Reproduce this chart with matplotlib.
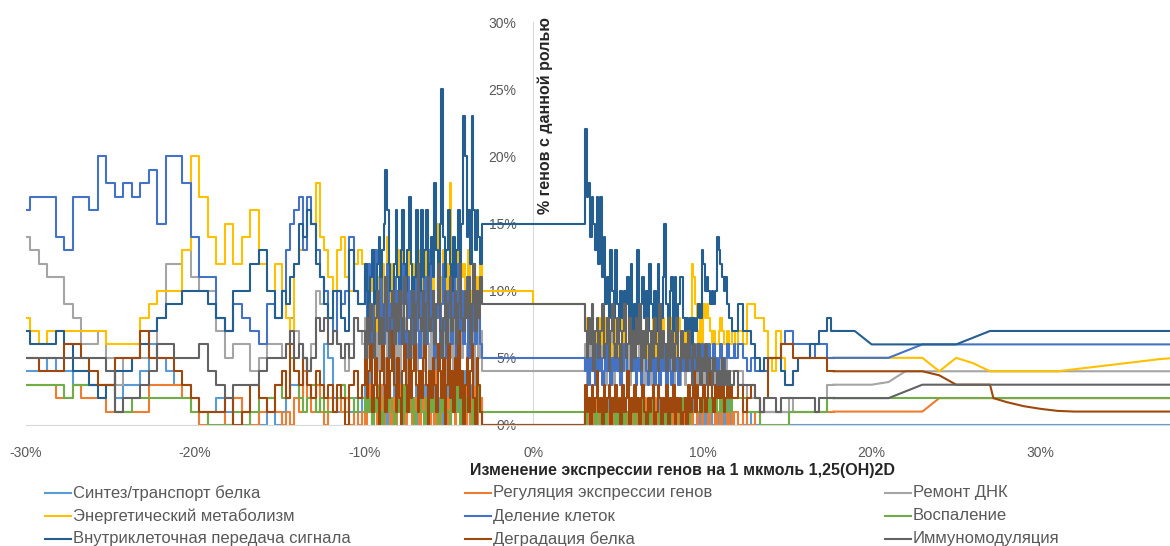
import numpy as np
import matplotlib
matplotlib.use("Agg")
import matplotlib.pyplot as plt
from matplotlib.lines import Line2D
from matplotlib.ticker import FuncFormatter, MultipleLocator

plt.rcParams['font.family'] = ['Liberation Sans Narrow', 'Liberation Sans', 'DejaVu Sans']

# x sample positions (% change of expression)
X_LEFT = np.concatenate([np.linspace(-30, -15.5, 30),
                         np.linspace(-15, -10.25, 20),
                         np.linspace(-10, -3, 71)])
X_TAIL = [18, 19, 20, 21, 22, 23, 24, 25, 26, 27, 27.2, 28, 29, 30, 31, 32, 33, 34, 35, 36, 37, 38]
X_RIGHT = np.concatenate([np.linspace(3, 11.9, 90),
                          np.linspace(12, 17.75, 24),
                          X_TAIL])
X_TICKS = [-30, -20, -10, 0, 10, 20, 30]

LABELS = ["Синтез/транспорт белка", "Регуляция экспрессии генов", "Ремонт ДНК",
          "Энергетический метаболизм", "Деление клеток", "Воспаление",
          "Внутриклеточная передача сигнала", "Деградация белка", "Иммуномодуляция"]
COLORS = ["#5B9BD5", "#ED7D31", "#A5A5A5", "#FFC000", "#4472C4", "#70AD47",
          "#255E91", "#9E480E", "#636363"]

# % of genes with the role, left side (x < 0)
SYNTH_L = """4 4 4 5 4 4 3 3 3 3 3 2 3 3 4 6 5 4 3 3 2 1 1 2 1 2 1 1 0 1
0 1 2 3 3 2 5 3 2 1 2 6 5 2 1 3 2 1 2 1
2 3 1 4 2 0 3 5 1 2 3 1 4 2 0 3 1 2 5 1 2 4 1 3 0 2 5 1 3 2 1 3 0 2 4 1 3 2 0 4
2 1 3 5 1 2 0 3 1 4 2 0 3 1 4 2 1 3 0 2 4 1 2 0 3 1 2 4 1 2 0"""
REGUL_L = """3 3 3 3 2 2 3 2 2 2 1 1 1 1 1 3 3 3 3 2 1 0 1 1 0 2 1 0 1 2
1 0 1 0 2 1 4 2 1 3 1 0 2 1 2 1 2 0 1 0
1 0 2 1 3 0 1 2 0 1 3 1 0 2 1 4 0 1 2 0 1 3 0 2 1 0 2 4 1 0 2 1 3 0 1 2 0 1 3 0
1 2 0 4 1 0 2 1 3 0 2 0 1 3 0 2 1 0 2 1 0 3 1 0 2 1 4 0 1 2 0"""
REPAIR_L = """14 13 12 11 11 9 8 6 6 7 5 3 5 5 5 5 8 12 12 13 11 10 10 7 5 6 6 4 5 6
6 5 6 8 7 6 5 4 6 10 9 10 8 7 6 5 4 6 8 7
6 8 5 7 4 6 9 5 7 4 6 8 5 3 7 9 6 4 8 5 7 4 6 9 5 8 3 6 7 5 8 4 6 9 5 7 4 8 6 3
7 5 9 6 4 8 5 7 3 6 9 5 7 4 8 6 3 7 5 9 6 4 8 5 7 3 6 9 5 7 4"""
ENERGY_L = """8 7 6 7 7 7 7 7 7 7 6 6 6 6 8 9 10 10 10 13 20 17 14 12 15 12 14 16 12 10
12 10 8 7 12 13 13 16 15 18 14 13 11 10 13 14 11 10 12 13
12 9 11 8 10 13 9 7 11 10 8 12 9 11 14 10 8 12 9 11 13 10 12 16 9 11 13 8 10 12
9 11 13 10 8 12 9 16 11 10 12 9 13 15 10 8 11 13 9 12 10 18 11 9 12 10 13 8 11 12
9 11 13 10 8 12 9 11 10 12 10"""
DIVIS_L = """16 17 17 17 14 13 17 17 16 20 18 17 18 17 18 19 15 20 20 18 14 11 11 8 7 9 8 7 6 9
8 10 13 15 16 17 13 17 15 13 11 10 8 7 10 9 10 14 10 9
9 11 7 12 8 6 10 13 9 7 11 8 6 10 12 7 9 5 11 8 10 6 9 12 7 5 11 8 10 6
9 12 7 5 10 8 11 6 9 13 7 10 5 8 11 6 9 12 7 5 10 8 6 11 9 5 12 7 10 6
8 11 5 9 7 12 6 10 8 6 5"""
INFL_L = """3 3 3 3 3 2 3 3 3 3 3 1 1 2 2 2 2 2 2 2 1 1 0 0 0 1 0 1 2 2
3 2 2 5 4 2 1 2 3 1 2 1 1 1 2 3 1 2 1 2
2 1 3 1 2 0 1 2 1 3 1 0 2 1 1 3 2 1 0 1 2 1 1 0 3 1 2 1 1 2 0 1 2 3 1 1 0 2 1 1
3 1 2 1 0 1 2 1 3 1 1 0 2 1 1 3 1 0 2 1 1 2 1 1 0 2 1 3 1 1 1"""
SIGNAL_L = """7 6 6 6 7 6 4 4 3 2 3 4 4 5 6 7 8 9 9 10 10 10 9 8 7 10 10 12 13 10
8 10 9 11 12 15 14 16 15 12 11 9 8 10 10 8 7 13 10 9
9 12 10 8 11 13 9 10 12 14 11 13 15 19 16 12 10 9 12 16 11 9 13 16 12 10 13 17 12 9
11 16 12 10 16 11 13 16 10 12 14 11 18 13 10 15 25 14 11 13 16 12 10 14 11 13 16 12 15 23
20 14 16 12 23 16 13 16 14 12 15"""
DEGR_L = """5 5 4 4 4 6 6 5 4 3 3 5 5 5 7 5 5 5 4 3 2 1 1 1 2 0 1 3 2 1
3 4 2 6 4 3 5 3 2 4 3 2 3 1 3 2 0 3 4 2
3 5 2 4 6 1 3 5 2 0 4 6 3 1 5 2 4 7 3 1 5 2 0 4 6 3 1 5 2 4 6 3 1 4 2 5 7 3 0 4
2 5 3 1 6 4 2 5 0 3 6 2 4 1 5 3 7 2 4 0 3 5 1 4 6 2 0 5 3 1 0"""
IMMUN_L = """5 5 5 5 5 5 5 5 5 5 4 1 2 2 3 4 6 6 5 5 5 6 4 3 2 3 3 3 4 5
5 5 6 7 5 6 5 4 5 8 7 8 6 7 6 5 6 5 8 7
7 5 8 6 9 7 5 8 10 6 8 6 9 11 7 5 8 10 6 9 7 10 8 6 11 9 7 5 8 10 6 9 12 8 7 10 6 9 11 7
8 10 6 9 12 7 5 8 10 6 9 11 7 8 10 6 9 12 8 7 10 8 11 6 9 12 7 10 8 11 9"""

# right side (x > 0)
SYNTH_R = """0 1 0 0 2 0 1 0 0 1 0 0 1 0 2 0 0 1 0 0 1 0 0 2 0 1 0 0 1 0 0 2 0 0 1 0 0 1 0 2
0 0 1 0 0 2 0 1 0 0 1 0 0 1 0 0 2 0 0 1 0 1 0 0 2 0 0 1 0 1 0 0 1 0 1 2 0 0 1 0
1 0 0 1 0 1 2 0 1 1
1 0 0 1 0 0 1 1 1 1 1 1 1 0 0 0 0 0 0 0 0 0 0 0
0 0 0 0 0 0 0 0 0 0 0 0 0 0 0 0 0 0 0 0 0 0"""
REGUL_R = """0 1 0 2 1 0 1 0 2 0 1 0 1 2 0 1 0 1 0 2 0 1 0 1 2 0 1 0 1 0 2 0 1 0 1 0 2 1 0 1
0 1 2 0 1 0 1 0 2 1 0 1 0 1 2 0 1 0 1 0 1 2 0 1 0 1 2 0 1 1 0 1 2 1 0 1 1 2 0 1
1 0 1 2 1 0 1 1 0 1
1 0 1 0 0 1 1 1 1 1 1 1 1 1 1 1 1 1 1 1 1 1 1 1
1 1 1 1 1 1 2 2 2 2 2 2 2 2 2 2 2 2 2 2 2 2"""
REPAIR_R = """4 6 3 5 7 4 6 3 5 6 4 7 5 3 6 4 5 7 3 5 6 4 3 5 7 4 6 3 5 4 6 3 5 7 4 5 3 6 4 5
3 6 4 5 7 3 5 4 6 3 5 4 6 3 5 7 4 3 5 4 3 5 4 6 3 4 5 3 4 6 4 3 5 4 3 5 4 6 3 4
5 3 4 3 5 4 3 4 4 4
4 4 3 2 2 2 1 1 1 1 1 1 1 2 1 1 1 1 1 1 1 1 3 3
3 3 3 3.2 4 4 4 4 4 4 4 4 4 4 4 4 4 4 4 4 4 4"""
ENERGY_R = """9 7 8 6 7 8 6 7 5 8 6 7 5 8 6 7 5 6 8 6 7 5 6 8 6 10 9 7 6 8 5 7 6 8 5 7 6 5 8 7
6 8 5 7 6 5 7 8 6 5 7 6 8 7 5 6 8 7 5 6 7 5 6 8 12 11 9 7 6 8 6 9 8 9 8 7 6 7 6 6
7 8 7 6 6 7 6 6 7 7
6 7 6 9 9 8 8 7 5 4 7 5 3 3 4 5 5 5 5 5 5 5 5 5
5 5 5 5 5 5 4 5 4.6 4 4 4 4 4 4 4.15 4.3 4.45 4.6 4.75 4.9 5"""
DIVIS_R = """5 4 6 3 5 4 5 3 6 4 5 3 4 6 4 5 3 5 4 6 4 5 3 4 6 5 3 4 5 4 6 3 5 4 3 5 6 4 3 5
4 6 3 5 4 3 5 4 6 3 5 4 3 6 4 5 3 4 5 4 6 5 4 5 6 5 4 6 5 5 6 5 4 5 6 5 5 6 5 4
5 6 5 4 5 6 5 5 5 6
5 6 5 4 5 4 4 4 5 5 5 6 7 7 6 6 6 6 5 6 6 6 5 5
5 5 5 5 5.5 6 6 6 6 6 6 6 6 6 6 6 6 6 6 6 6 6"""
INFL_R = """1 0 2 1 0 1 2 0 1 1 0 2 1 0 1 1 0 2 1 0 1 0 1 2 0 1 1 0 1 2 0 1 1 0 2 1 0 1 1 0
2 1 0 1 1 0 1 2 0 1 1 0 2 1 0 1 1 0 1 2 1 1 0 2 1 1 2 1 1 2 1 2 2 1 2 1 2 2 1 2
2 1 2 2 1 2 2 1 2 2
2 2 2 1 1 1 0 0 0 0 0 0 0 1 1 1 1 1 1 1 1 1 2 2
2 2 2 2 2 2 2 2 2 2 2 2 2 2 2 2 2 2 2 2 2 2"""
SIGNAL_R = """15 22 17 18 14 17 15 13 17 12 17 11 14 9 11 8 13 10 8 13 9 7 10 8 10 9 11 8 12 7
9 8 13 7 9 11 8 10 7 12 9 8 10 7 12 9 8 11 15 9 8 10 11 7 11 8 9 11 11 8
7 8 7 8 6 8 7 8 9 8 13 12 10 11 10 9 10 9 10 14 13 12 11 10 11 9 8 8 7 7
7 9 7 7 6 5 4 5 5 5 5 4 3 3 4 5 5 5 6 6 7 7 8 7
7 7 6 6 6 6 6 6 6.5 7 7 7 7 7 7 7 7 7 7 7 7 7"""
DEGR_R = """0 3 1 2 0 3 1 2 4 1 2 0 3 1 2 3 0 2 1 3 1 2 0 3 1 2 4 0 2 1 3 1 2 0 2 3 1 0 2 1
2 3 0 1 3 2 0 2 1 3 0 2 1 3 0 2 1 2 0 1 2 0 3 1 2 4 1 3 2 1 2 3 1 2 4 3 2 1 3 2
3 2 4 1 2 3 2 3 2 2
2 3 1 2 3 2 1 2 5 5 5 6 6 6 5 5 5 5 5 5 5 5 4 4
4 4 4 4 4 4 3.7 3 3 3 2 1.7 1.4 1.2 1.05 1 1 1 1 1 1 1"""
IMMUN_R = """9 7 5 8 6 9 4 7 8 5 7 9 5 6 8 4 7 9 6 5 8 6 4 7 9 5 6 8 4 7 5 8 6 9 4 7 5 8 6 4
7 5 8 6 4 9 5 7 6 4 8 5 7 4 6 8 5 4 7 5 6 4 7 5 3 6 5 4 6 3 5 4 6 3 5 4 3 5 4 3
4 3 5 3 4 3 4 3 3 4
4 3 3 3 3 2 1 2 2 2 1 2 2 2 2 2 2 2 2 1 2 2 2 2
2 2 2 2 2.5 3 3 3 3 3 3 3 3 3 3 3 3 3 3 3 3 3"""

LEFT = [SYNTH_L, REGUL_L, REPAIR_L, ENERGY_L, DIVIS_L, INFL_L, SIGNAL_L, DEGR_L, IMMUN_L]
RIGHT = [SYNTH_R, REGUL_R, REPAIR_R, ENERGY_R, DIVIS_R, INFL_R, SIGNAL_R, DEGR_R, IMMUN_R]


def vals(s):
    return [float(v) for v in s.split()]


W, H = 1170, 546
fig = plt.figure(figsize=(W / 100, H / 100), dpi=100)
# axis runs -30%..50%, the right part is cut off by the picture edge
ax = fig.add_axes([26 / W, 121 / H, 1353 / W, 403 / H])

n_tail = len(X_TAIL)
for lab, col, sl, sr in zip(LABELS, COLORS, LEFT, RIGHT):
    yl, yr = vals(sl), vals(sr)
    if len(yl) != len(X_LEFT) or len(yr) != len(X_RIGHT):
        print(lab, len(yl), len(X_LEFT), len(yr), len(X_RIGHT))
    # stepwise sliding-window part, then the smooth sparse tail
    xs = np.concatenate([X_LEFT, X_RIGHT[:-n_tail]])
    ys = yl + yr[:-n_tail]
    ax.plot(xs, ys, color=col, lw=1.5, drawstyle='steps-mid', label=lab)
    ax.plot(X_RIGHT[-n_tail - 1:], yr[-n_tail - 1:], color=col, lw=1.5)

ax.set_xlim(-30, 50)
ax.set_ylim(0, 30)
for s in ['top', 'right']:
    ax.spines[s].set_visible(False)
ax.spines['left'].set_position(('data', 0))
ax.spines['left'].set_color('#d9d9d9')
ax.spines['bottom'].set_color('#d9d9d9')
ax.spines['left'].set_zorder(0)
ax.set_xticks(X_TICKS)
ax.yaxis.set_major_locator(MultipleLocator(5))
pct = FuncFormatter(lambda v, p: f"{v:.0f}%")
ax.xaxis.set_major_formatter(pct)
ax.yaxis.set_major_formatter(pct)
ax.tick_params(axis='both', length=0, labelsize=10, labelcolor='#595959')
ax.tick_params(axis='x', pad=15)
ax.tick_params(axis='y', pad=12)

fig.text(683 / W, 1 - 471 / H, "Изменение экспрессии генов на 1 мкмоль 1,25(OH)2D",
         ha='center', va='center', fontsize=11.5, fontweight='bold', color='#262626')
fig.text(545 / W, 1 - 116 / H, "% генов с данной ролью", rotation=90,
         ha='center', va='center', fontsize=11.5, fontweight='bold', color='#262626')

# legend: 3 columns, row-major order as in the source
for i, (lab, col) in enumerate(zip(LABELS, COLORS)):
    r, c = divmod(i, 3)
    x0 = 45 + c * 420
    y0 = 1 - (493 + r * 23) / H
    fig.add_artist(Line2D([x0 / W, (x0 + 26) / W], [y0, y0], color=col, lw=1.5,
                          transform=fig.transFigure))
    fig.text((x0 + 28) / W, y0, lab, ha='left', va='center', fontsize=12, color='#595959')

fig.savefig("out.png", dpi=100)
